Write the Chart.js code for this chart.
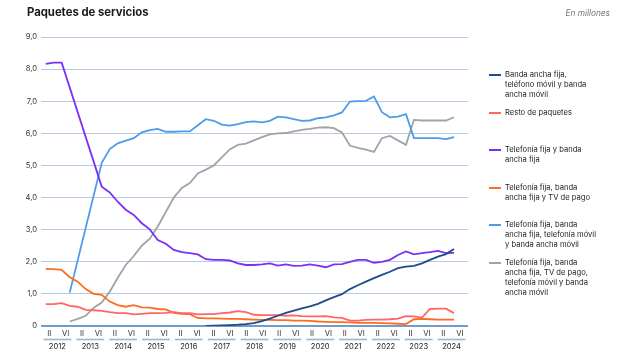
<!DOCTYPE html>
<html><head><meta charset="utf-8">
<script src="https://cdn.jsdelivr.net/npm/chart.js@4/dist/chart.umd.min.js"></script>
<style>
html,body{margin:0;padding:0;background:#fff;}
#wrap{position:relative;width:620px;height:364px;overflow:hidden;font-family:Inter,"Liberation Sans",sans-serif;}
#c{position:absolute;left:0;top:0;}
#title{position:absolute;left:27px;top:5px;font-size:11.3px;font-weight:700;color:#1a1a1a;white-space:nowrap;}
#unit{position:absolute;right:10px;top:8px;font-size:8.3px;font-style:italic;color:#777;white-space:nowrap;}
.lg{position:absolute;left:489px;}
.sw{position:absolute;left:0;width:12px;height:2px;}
.tx{position:absolute;left:16px;font-size:7.6px;line-height:10px;color:#222;white-space:nowrap;}
</style></head>
<body><div id="wrap"><canvas id="c" width="620" height="364"></canvas>
<div id="title">Paquetes de servicios</div><div id="unit">En millones</div><div id="legend"></div></div>
<script>
// ---- data (quarterly points, 2012 T1 .. 2024 T4) ----
const years = ['2012','2013','2014','2015','2016','2017','2018','2019','2020','2021','2022','2023','2024'];
const semesterLabels = years.flatMap(() => ['II','VI']);
const yTickLabels = ['0','1,0','2,0','3,0','4,0','5,0','6,0','7,0','8,0','9,0'];

const seriesNames = [
  'Banda ancha fija,\nteléfono móvil y banda\nancha móvil',
  'Resto de paquetes',
  'Telefonía fija y banda\nancha fija',
  'Telefonía fija, banda\nancha fija y TV de pago',
  'Telefonía fija, banda\nancha fija, telefonía móvil\ny banda ancha móvil',
  'Telefonía fija, banda\nancha fija, TV de pago,\ntelefonía móvil y banda\nancha móvil'
];
const seriesColors = ['#1c4c8a','#ff6666','#7b30f5','#ff6b22','#4d9be9','#a3a3a3'];

const bafMovil = [null,null,null,null,null,null,null,null,null,null,null,null,null,null,null,null,null,null,null,null,
  0.0,0.01,0.02,0.03,0.04,0.06,0.09,0.15,0.23,0.32,0.41,0.48,0.55,0.61,0.69,0.8,0.9,0.99,1.15,1.27,1.38,1.49,1.59,1.69,1.8,1.85,1.87,1.95,2.06,2.16,2.24,2.4];
const resto = [0.68,0.68,0.71,0.63,0.6,0.5,0.49,0.47,0.43,0.4,0.4,0.36,0.38,0.4,0.4,0.41,0.43,0.4,0.4,0.36,
  0.37,0.37,0.4,0.42,0.46,0.43,0.35,0.34,0.34,0.34,0.32,0.33,0.31,0.3,0.3,0.31,0.27,0.25,0.17,0.17,0.19,0.2,0.2,0.21,0.23,0.31,0.3,0.26,0.53,0.54,0.54,0.4];
const fijaBaf = [8.16,8.2,8.2,null,null,null,null,4.34,4.16,3.87,3.62,3.46,3.2,3.01,2.68,2.56,2.37,2.3,2.27,2.23,
  2.08,2.06,2.06,2.04,1.95,1.9,1.9,1.92,1.95,1.88,1.92,1.87,1.88,1.92,1.88,1.83,1.92,1.93,2.0,2.06,2.06,1.97,2.0,2.06,2.21,2.32,2.23,2.27,2.3,2.34,2.27,2.28];
const fijaBafTv = [1.78,1.77,1.75,1.52,1.38,1.15,1.0,0.97,0.76,0.65,0.6,0.65,0.58,0.57,0.53,0.52,0.41,0.38,0.37,0.25,
  0.24,0.24,0.23,0.22,0.22,0.21,0.2,0.19,0.19,0.18,0.18,0.17,0.17,0.16,0.14,0.13,0.12,0.12,0.11,0.1,0.1,0.1,0.09,0.08,0.07,0.06,0.21,0.22,0.21,0.2,0.2,0.2];
const fijaBafMovil = [null,null,null,1.04,null,null,null,5.08,5.51,5.69,5.77,5.85,6.03,6.1,6.14,6.05,6.05,6.06,6.06,6.25,
  6.44,6.39,6.27,6.24,6.29,6.35,6.37,6.34,6.39,6.52,6.5,6.44,6.39,6.4,6.47,6.5,6.56,6.65,6.99,7.0,7.01,7.15,6.66,6.5,6.52,6.6,5.85,5.85,5.85,5.85,5.82,5.88];
const fijaBafTvMovil = [null,null,null,0.14,0.22,0.32,0.57,0.73,1.07,1.5,1.9,2.18,2.5,2.72,3.1,3.55,4.0,4.3,4.45,4.75,
  4.87,5.0,5.25,5.5,5.64,5.68,5.78,5.88,5.97,6.0,6.01,6.06,6.11,6.14,6.18,6.19,6.16,6.03,5.62,5.55,5.49,5.42,5.85,5.92,5.78,5.64,6.42,6.4,6.4,6.4,6.4,6.5];

const seriesValues = [bafMovil, resto, fijaBaf, fijaBafTv, fijaBafMovil, fijaBafTvMovil];

const datasets = seriesValues.map((vals, s) => ({
  label: seriesNames[s],
  data: vals.map((v, i) => ({x: i, y: v})),
  borderColor: seriesColors[s],
  backgroundColor: seriesColors[s],
  borderWidth: 1.8,
  pointRadius: 0,
  tension: 0,
  spanGaps: true
}));

const font = {family: 'Inter, "Liberation Sans", sans-serif', size: 7.6};

const underline = {
  id: 'underline',
  afterDraw(chart) {
    const sc = chart.scales.yr, ctx = chart.ctx;
    const w = (sc.right - sc.left) / years.length;
    ctx.save();
    ctx.strokeStyle = '#93b8dc';
    ctx.lineWidth = 1.6;
    years.forEach((y, k) => {
      const c = sc.getPixelForTick(k);
      ctx.beginPath();
      ctx.moveTo(c - w / 2 + 2.5, sc.top - 0.5);
      ctx.lineTo(c + w / 2 - 2.5, sc.top - 0.5);
      ctx.stroke();
    });
    ctx.restore();
  }
};

new Chart(document.getElementById('c'), {
  type: 'line',
  data: {datasets},
  options: {
    responsive: false,
    devicePixelRatio: 1,
    animation: false,
    layout: {padding: {top: 37, right: 152, bottom: 8, left: 0}},
    plugins: {legend: {display: false}, tooltip: {enabled: false}},
    scales: {
      x: {type: 'linear', display: false, min: -0.587, max: 52.75},
      sem: {
        type: 'category', axis: 'x', position: 'bottom', weight: 0, offset: true,
        labels: semesterLabels,
        grid: {display: false, drawTicks: false}, border: {display: false},
        ticks: {autoSkip: false, maxRotation: 0, padding: 3, color: '#333', font},
        afterFit(s) { s.height = 14; }
      },
      yr: {
        type: 'category', axis: 'x', position: 'bottom', weight: 1, offset: true,
        labels: years,
        grid: {display: false, drawTicks: false}, border: {display: false},
        ticks: {autoSkip: false, maxRotation: 0, padding: 2, color: '#222', font},
        afterFit(s) { s.height = 16; }
      },
      y: {
        min: 0, max: 9,
        border: {display: false},
        grid: {
          drawTicks: false,
          color: c => c.tick && c.tick.value === 0 ? '#6f9cc8' : '#b3cce3',
          lineWidth: c => c.tick && c.tick.value === 0 ? 2 : 1
        },
        ticks: {stepSize: 1, padding: 4, color: '#333', font,
          callback: (v, i) => yTickLabels[i]},
        afterFit(s) { s.width = 41; }
      }
    }
  },
  plugins: [underline]
});

// legend (HTML, multi-line labels)
const legendTops = [75, 112.6, 150.2, 187.8, 225.4, 263];
const lg = document.getElementById('legend');
seriesNames.forEach((name, s) => {
  const d = document.createElement('div');
  d.className = 'lg';
  d.style.top = legendTops[s] + 'px';
  d.innerHTML = '<div class="sw" style="top:-1px;background:' + seriesColors[s] + '"></div>' +
    '<div class="tx" style="top:-5px">' + name.split('\n').join('<br>') + '</div>';
  lg.appendChild(d);
});
</script></body></html>
